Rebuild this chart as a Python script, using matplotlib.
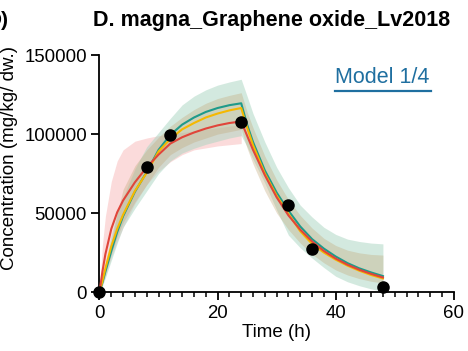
import matplotlib
matplotlib.use("Agg")
import matplotlib.pyplot as plt
from matplotlib.lines import Line2D

plt.rcParams['font.family'] = ['Liberation Sans', 'DejaVu Sans']

# observed data
obs_time = [0, 8, 12, 24, 32, 36, 48]
obs_conc = [0, 79000, 99500, 107500, 54800, 27500, 3300]

# model curves (uptake 0-24 h, depuration 24-48 h)
time = [0, 0.5, 1, 2, 3, 4, 6, 8, 10, 12, 14, 16, 18, 20, 22, 24,
        25, 26, 28, 30, 32, 34, 36, 38, 40, 42, 44, 46, 48]
red = [0, 13000, 24000, 40000, 50500, 58000, 69500, 79000, 87000, 94000,
       98000, 101000, 103500, 105500, 107000, 108000,
       99000, 90000, 74000, 60000, 48500, 39500, 32000, 26000, 21200,
       17300, 14100, 11500, 9200]
yellow = [0, 7000, 15000, 29000, 40000, 49000, 64000, 75500, 89000, 97000,
          103000, 107000, 110500, 113000, 115000, 116500,
          104000, 93000, 75000, 61000, 49500, 38500, 30500, 25000, 20500,
          16700, 13500, 10800, 8600]
teal = [0, 6000, 13000, 26000, 38000, 48000, 63500, 76000, 90000, 99500,
        106000, 110500, 114000, 116500, 118300, 119500,
        106000, 95000, 77000, 63000, 51500, 41500, 33500, 27500, 22500,
        18300, 15000, 12400, 10100]

# confidence bands
outer_hi = [0, 9000, 18000, 36000, 50000, 60000, 78000, 92000, 101000, 110000,
            118500, 124000, 128000, 131000, 133000, 134700,
            124000, 113000, 95000, 79000, 66000, 55000, 47500, 41000, 36500,
            33500, 32000, 31000, 30500]
outer_lo = [0, 4000, 9000, 20000, 31000, 41000, 53000, 64000, 75000, 83000,
            88000, 91000, 93500, 95500, 97500, 99000,
            92000, 84000, 69000, 52000, 36000, 28000, 21500, 15500, 10000,
            6500, 4000, 2000, 500]
tan_hi = [0, 8000, 16000, 32000, 50000, 65000, 80000, 90000, 98000, 105000,
          110600, 115500, 119500, 122500, 124500, 126200,
          114000, 104000, 86000, 71000, 58500, 48500, 40500, 34000, 29500,
          26500, 24800, 23800, 23400]
tan_lo = [0, 5500, 12000, 24000, 35000, 44000, 57000, 68000, 79000, 87000,
          91500, 95000, 97500, 100000, 101500, 103000,
          91000, 81000, 64000, 50000, 39500, 31000, 24000, 18500, 14000,
          10800, 8500, 6800, 5700]

pink_time = [0, 0.5, 1, 2, 3, 4, 6, 8, 10, 12, 14, 16, 20, 24]
pink_hi = [0, 30000, 48000, 70000, 83000, 90000, 95500, 97500, 99000, 100000,
           101000, 102000, 104000, 106000]
pink_lo = [0, 5000, 10000, 22000, 32000, 41000, 56000, 68000, 76500, 82500,
           87000, 90000, 92500, 94000]

fig = plt.figure(figsize=(4.68, 3.51), dpi=100)
ax = fig.add_axes([0.2126, 0.168, 0.757, 0.675])

ax.fill_between(pink_time, pink_lo, pink_hi, color='#f7a5a5', alpha=0.4,
                lw=0, zorder=1)
ax.fill_between(time, outer_lo, outer_hi, color='#a8d5c0', alpha=0.5,
                lw=0, zorder=2)
ax.fill_between(time, tan_lo, tan_hi, color='#c2a878', alpha=0.35,
                lw=0, zorder=3)

ax.plot(time, teal, color='#1f9a8a', lw=1.5, zorder=4)
ax.plot(time, yellow, color='#f5b800', lw=1.5, zorder=5)
ax.plot(time, red, color='#e0453a', lw=1.5, zorder=6)

ax.plot(obs_time, obs_conc, 'o', color='black', ms=8, clip_on=False, zorder=10)

ax.set_xlim(0, 60)
ax.set_ylim(0, 150000)
ax.set_xticks([0, 20, 40, 60])
ax.set_xticks(range(0, 61, 2), minor=True)
ax.set_yticks([0, 50000, 100000, 150000])
ax.spines['top'].set_visible(False)
ax.spines['right'].set_visible(False)
for s in ['left', 'bottom']:
    ax.spines[s].set_linewidth(1.3)
ax.tick_params(which='major', direction='out', length=6, width=1.3,
               labelsize=13.4, pad=3)
ax.tick_params(which='minor', direction='out', length=3.5, width=1.1)

ax.set_xlabel('Time (h)', fontsize=13.5, labelpad=2)
ax.set_ylabel('Concentration (mg/kg/ dw.)', fontsize=13.5)
ax.yaxis.set_label_coords(-0.23, 0.565)

ax.text(0.665, 0.905, 'Model 1/4', transform=ax.transAxes, fontsize=15.5,
        color='#1f6fa0', ha='left', va='center')
ax.add_line(Line2D([0.665, 0.937], [0.85, 0.85], transform=ax.transAxes,
                   color='#1f6fa0', lw=1.6, clip_on=False))

fig.text(0.58, 0.943, 'D. magna_Graphene oxide_Lv2018', fontsize=15.5,
         fontweight='bold', ha='center', va='center')
fig.text(0.018, 0.943, 'D)', fontsize=15, fontweight='bold',
         ha='right', va='center')

fig.savefig('out.png', dpi=100)
